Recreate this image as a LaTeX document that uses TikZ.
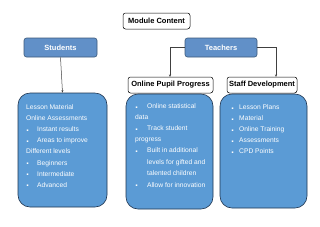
\documentclass[tikz,border=0pt]{standalone}
\usepackage{fontspec}
\setmainfont{Liberation Sans}
\newfontfamily\dejavu{DejaVu Sans}
\usetikzlibrary{arrows.meta}
\definecolor{hdrfill}{HTML}{6190C8}
\definecolor{hdrline}{HTML}{3D5A7A}
\definecolor{bodyfill}{HTML}{5B9BD5}
\definecolor{bodyline}{HTML}{1F3550}
\definecolor{conn}{HTML}{404040}
\tikzset{
  lbl/.style={draw=black, line width=0.5pt, fill=white, rounded corners=2.5pt, inner sep=0pt,
    font=\fontsize{7.5}{9}\selectfont\bfseries, text=black},
  hdr/.style={draw=hdrline, line width=0.6pt, fill=hdrfill, rounded corners=2.5pt, inner sep=0pt,
    font=\fontsize{7.5}{9}\selectfont\bfseries, text=white},
  bodybox/.style={draw=bodyline, line width=0.6pt, fill=bodyfill, rounded corners=12pt, inner sep=0pt},
  txt/.style={anchor=base west, inner sep=0pt, text=white, font=\fontsize{6.7}{8}\selectfont},
  bul/.style={anchor=base west, inner sep=0pt, text=white, font=\dejavu\fontsize{3}{4}\selectfont},
  conline/.style={draw=conn, line width=0.5pt},
  arr/.style={conline, -{Stealth[length=2.5pt,width=2pt]}}
}
\begin{document}
\begin{tikzpicture}[x=1pt,y=-1pt]
\useasboundingbox[fill=white] (0,0) rectangle (320,226);
% header boxes
\node[lbl, minimum width=67pt, minimum height=16pt] (mc) at (156.5,21) {Module Content};
\node[hdr, minimum width=73pt, minimum height=19pt] (st) at (60.5,47.5) {Students};
\node[hdr, minimum width=72pt, minimum height=19pt] (te) at (221,47.5) {Teachers};
\node[lbl, minimum width=85pt, minimum height=16pt] (opp) at (170.5,85) {Online Pupil Progress};
\node[lbl, minimum width=70pt, minimum height=16pt] (sd) at (262,85) {Staff Development};
% bodies
\node[bodybox, minimum width=89pt, minimum height=114pt] (sb) at (62.5,150) {};
\node[bodybox, minimum width=87pt, minimum height=115pt] (ob) at (169.5,151.5) {};
\node[bodybox, minimum width=87pt, minimum height=114pt] (db) at (263.5,151) {};
% connectors
\draw[arr] (st.south) -- (sb.north);
\coordinate (oppin) at (170,77);
\coordinate (sdin) at (276,77);
\draw[arr] (te.west) -| (oppin);
\draw[arr] (te.east) -| (sdin);
% Students text
\node[txt] (s1) at (26,109.5) {Lesson Material};
\node[txt] (s2) at (26,120.6) {Online Assessments};
\node[bul] (s3b) at (26.5,131.2) {▪};
\node[txt] (s3) at (37,131.7) {Instant results};
\node[bul] (s4b) at (26.5,142.3) {▪};
\node[txt] (s4) at (37,142.8) {Areas to improve};
\node[txt] (s5) at (26,153.9) {Different levels};
\node[bul] (s6b) at (26.5,164.5) {▪};
\node[txt] (s6) at (37,165) {Beginners};
\node[bul] (s7b) at (26.5,175.6) {▪};
\node[txt] (s7) at (37,176.1) {Intermediate};
\node[bul] (s8b) at (26.5,186.7) {▪};
\node[txt] (s8) at (37,187.2) {Advanced};
% Online Pupil Progress text
\node[bul] (o1b) at (135.5,108) {▪};
\node[txt] (o1) at (147,108.5) {Online statistical};
\node[txt] (o2) at (135,119.6) {data};
\node[bul] (o3b) at (135.5,130.2) {▪};
\node[txt] (o3) at (147,130.7) {Track student};
\node[txt] (o4) at (135,141.8) {progress};
\node[bul] (o5b) at (135.5,152.4) {▪};
\node[txt] (o5) at (147,152.9) {Built in additional};
\node[txt] (o6) at (147,164) {levels for gifted and};
\node[txt] (o7) at (147,175.1) {talented children};
\node[bul] (o8b) at (135.5,186.7) {▪};
\node[txt] (o8) at (147,187.2) {Allow for innovation};
% Staff Development text
\node[bul] (d1b) at (231.5,109) {▪};
\node[txt] (d1) at (239,109.5) {Lesson Plans};
\node[bul] (d2b) at (231.5,120.1) {▪};
\node[txt] (d2) at (239,120.6) {Material};
\node[bul] (d3b) at (231.5,131.2) {▪};
\node[txt] (d3) at (239,131.7) {Online Training};
\node[bul] (d4b) at (231.5,142.3) {▪};
\node[txt] (d4) at (239,142.8) {Assessments};
\node[bul] (d5b) at (231.5,153.4) {▪};
\node[txt] (d5) at (239,153.9) {CPD Points};
\end{tikzpicture}
\end{document}
